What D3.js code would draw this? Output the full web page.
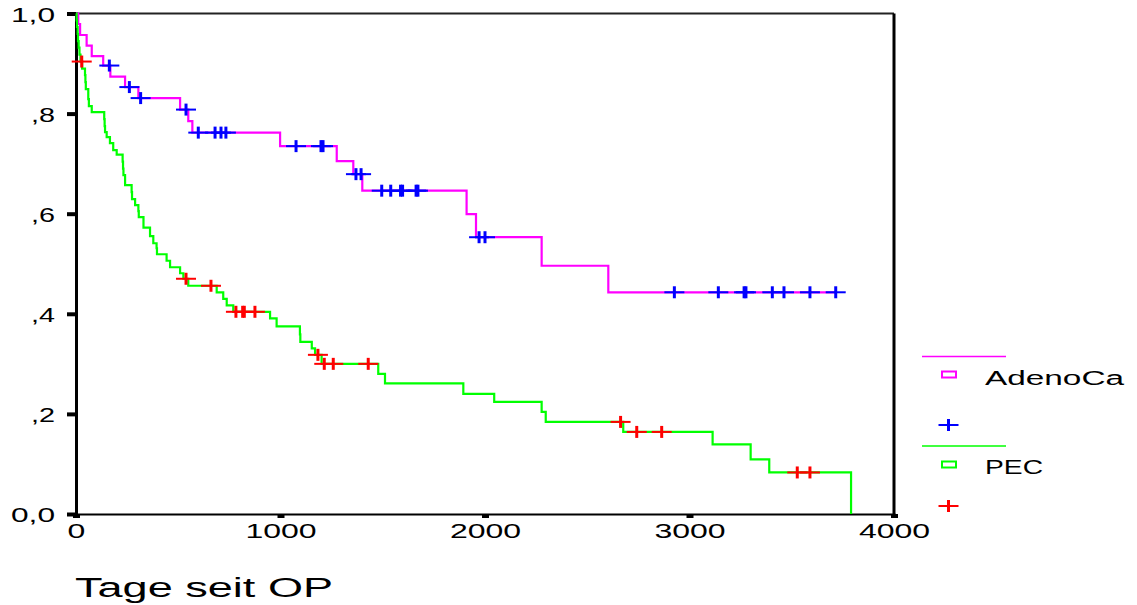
<!DOCTYPE html>
<html>
<head>
<meta charset="utf-8">
<script src="https://cdn.jsdelivr.net/npm/d3@7/dist/d3.min.js"></script>
<style>
  html, body { margin: 0; padding: 0; background: #fff; }
  svg { display: block; }
  text { font-family: "Liberation Sans", Arial, Helvetica, sans-serif; fill: #000; }
</style>
</head>
<body>
<svg id="chart" width="1137" height="605"></svg>
<script>
// Kaplan-Meier survival after surgery: AdenoCa vs PEC
// events: [day, survival after the step]; censored: days of censored cases
const adenoEvents = [
  [11, 0.979], [20, 0.957], [52, 0.936], [77, 0.915], [133, 0.896],
  [168, 0.874], [240, 0.853], [305, 0.831], [509, 0.808], [549, 0.785],
  [569, 0.762], [998, 0.735], [1275, 0.705], [1356, 0.679], [1400, 0.646],
  [1910, 0.599], [1956, 0.553], [2277, 0.496], [2603, 0.443]
];
const adenoCensored = [
  163, 261, 316, 538, 598, 680, 709, 733, 1076, 1198, 1208, 1369, 1394,
  1495, 1539, 1587, 1597, 1663, 1672, 1971, 2000, 2926, 3141, 3267, 3276,
  3405, 3462, 3589, 3715
];
const pecEvents = [
  [3, 0.986], [5, 0.973], [8, 0.959], [10, 0.945], [13, 0.932], [17, 0.918],
  [22, 0.904], [30, 0.890], [44, 0.877], [46, 0.863], [48, 0.849],
  [60, 0.829], [63, 0.815], [77, 0.803], [138, 0.789], [140, 0.775],
  [142, 0.763], [150, 0.753], [166, 0.741], [182, 0.727], [199, 0.718],
  [228, 0.704], [230, 0.690], [232, 0.677], [240, 0.657], [272, 0.643],
  [274, 0.629], [289, 0.617], [305, 0.605], [307, 0.593], [330, 0.572],
  [362, 0.555], [378, 0.541], [394, 0.531], [396, 0.519], [443, 0.506],
  [460, 0.493], [509, 0.481], [525, 0.470], [549, 0.456], [688, 0.443],
  [720, 0.430], [737, 0.417], [769, 0.404], [949, 0.391], [981, 0.375],
  [1095, 0.359], [1097, 0.344], [1153, 0.331], [1169, 0.318], [1201, 0.300],
  [1478, 0.280], [1511, 0.261], [1894, 0.240], [2045, 0.224], [2277, 0.204],
  [2297, 0.184], [2676, 0.164], [3113, 0.139], [3299, 0.109], [3390, 0.083],
  [3790, 0.0]
];
const pecCensored = [
  28, 538, 660, 782, 815, 823, 875, 1183, 1214, 1258, 1429, 2663, 2742,
  2864, 3527, 3589
];
const xTickValues = [0, 1000, 2000, 3000, 4000];
const yTickValues = [0, 0.2, 0.4, 0.6, 0.8, 1.0];
const yTickLabels = ["0,0", ",2", ",4", ",6", ",8", "1,0"];
const groupNames = ["AdenoCa", "PEC"];
const xTitle = "Tage seit OP";

const lineColors = ["#ff00ff", "#00ff00"];
const crossColors = ["#0000ff", "#ff0000"];

const svg = d3.select("#chart");
const x = d3.scaleLinear().domain([0, 4000]).range([76, 894]);
const y = d3.scaleLinear().domain([0, 1]).range([514, 13.5]);

// stretch glyphs horizontally to the wide lettering of the chart
function widen(sel, factor) {
  sel.each(function () {
    const w = this.getComputedTextLength();
    d3.select(this).attr("textLength", w * factor).attr("lengthAdjust", "spacingAndGlyphs");
  });
}
function fixWidth(sel, widthOf) {
  sel.each(function (d, i) {
    d3.select(this).attr("textLength", widthOf(this.textContent)).attr("lengthAdjust", "spacingAndGlyphs");
  });
}

// frame
svg.append("line").attr("x1", x(0)).attr("x2", x(4000)).attr("y1", y(1)).attr("y2", y(1))
  .attr("stroke", "#222").attr("stroke-width", 2);
svg.append("line").attr("x1", x(4000)).attr("x2", x(4000)).attr("y1", y(1)).attr("y2", y(0))
  .attr("stroke", "#000").attr("stroke-width", 3);

// y axis
const yAxis = svg.append("g").attr("transform", `translate(${x(0)},0)`)
  .call(d3.axisLeft(y).tickValues(yTickValues).tickSize(9).tickPadding(12)
    .tickFormat((d, i) => yTickLabels[i]));
yAxis.select(".domain").attr("stroke", "#000").attr("stroke-width", 3);
yAxis.selectAll(".tick line").attr("stroke", "#000").attr("stroke-width", 4);
yAxis.selectAll(".tick text").attr("font-size", 20).attr("dy", "0.38em")
  .style("font-family", "Liberation Sans, Arial, sans-serif")
  .call(fixWidth, s => s.length === 3 ? 44 : 24);

// x axis
const xAxis = svg.append("g").attr("transform", `translate(0,${y(0)})`)
  .call(d3.axisBottom(x).tickValues(xTickValues).tickSize(4).tickPadding(6)
    .tickFormat(d3.format("d")));
xAxis.select(".domain").attr("stroke", "#000").attr("stroke-width", 2);
xAxis.selectAll(".tick line").attr("stroke", "#000").attr("stroke-width", 7);
xAxis.selectAll(".tick text").attr("font-size", 20)
  .style("font-family", "Liberation Sans, Arial, sans-serif").call(widen, 1.6);

// axis title
svg.append("text").attr("x", 75).attr("y", 597).attr("font-size", 27)
  .attr("textLength", 258).attr("lengthAdjust", "spacingAndGlyphs").text(xTitle);

// survival step curves
function stepPoints(events, censored) {
  const lastCensor = d3.max(censored);
  const pts = [[0, 1], ...events];
  const lastEvent = events[events.length - 1];
  if (lastEvent[1] > 0 && lastCensor > lastEvent[0]) pts.push([lastCensor, lastEvent[1]]);
  return pts;
}
function survivalAt(events, t) {
  let s = 1;
  for (const [et, es] of events) { if (et <= t) s = es; }
  return s;
}
const line = d3.line().x(d => x(d[0])).y(d => y(d[1])).curve(d3.curveStepAfter);

const groups = [
  { events: adenoEvents, censored: adenoCensored },
  { events: pecEvents, censored: pecCensored }
];

groups.forEach((g, i) => {
  svg.append("path").datum(stepPoints(g.events, g.censored))
    .attr("d", line).attr("fill", "none")
    .attr("stroke", lineColors[i]).attr("stroke-width", 2.2);
});

// censor marks
function drawCross(sel, cx, cy, color) {
  sel.append("line").attr("x1", cx - 10).attr("x2", cx + 10).attr("y1", cy).attr("y2", cy)
    .attr("stroke", color).attr("stroke-width", 2);
  sel.append("line").attr("x1", cx).attr("x2", cx).attr("y1", cy - 6).attr("y2", cy + 6)
    .attr("stroke", color).attr("stroke-width", 3);
}
groups.forEach((g, i) => {
  const layer = svg.append("g");
  g.censored.forEach(t => drawCross(layer, x(t), y(survivalAt(g.events, t)), crossColors[i]));
});

// legend
const legend = svg.append("g");
const legendRows = [
  { lineY: 356.5, boxY: 371.5, textY: 385, crossY: 425, textW: 139 },
  { lineY: 446, boxY: 461.5, textY: 474, crossY: 506, textW: 58 }
];
legendRows.forEach((r, i) => {
  legend.append("line").attr("x1", 922).attr("x2", 1006).attr("y1", r.lineY).attr("y2", r.lineY)
    .attr("stroke", lineColors[i]).attr("stroke-width", 1.5);
  legend.append("rect").attr("x", 942).attr("y", r.boxY).attr("width", 14).attr("height", 6)
    .attr("fill", "none").attr("stroke", lineColors[i]).attr("stroke-width", 2);
  legend.append("text").attr("x", 985).attr("y", r.textY).attr("font-size", 20)
    .attr("textLength", r.textW).attr("lengthAdjust", "spacingAndGlyphs").text(groupNames[i]);
  drawCross(legend, 948.5, r.crossY, crossColors[i]);
});
</script>
</body>
</html>
